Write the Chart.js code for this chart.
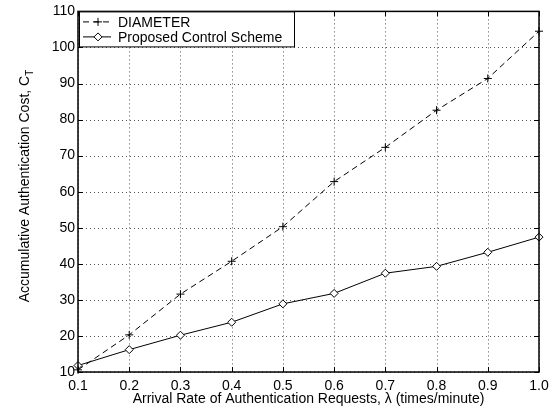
<!DOCTYPE html>
<html>
<head>
<meta charset="utf-8">
<script src="https://cdn.jsdelivr.net/npm/chart.js@4.4.0/dist/chart.umd.min.js"></script>
<style>
html, body { margin: 0; padding: 0; background: #fff; }
</style>
</head>
<body>
<canvas id="costChart" width="555" height="411"></canvas>
<script>
const rates = [0.1, 0.2, 0.3, 0.4, 0.5, 0.6, 0.7, 0.8, 0.9, 1.0];
const diameterCost = [10.6, 20.3, 31.6, 40.7, 50.3, 62.8, 72.3, 82.6, 91.4, 104.5];
const proposedCost = [11.8, 16.2, 20.2, 23.8, 28.9, 31.8, 37.4, 39.3, 43.2, 47.4];
const xTicks = [0.1, 0.2, 0.3, 0.4, 0.5, 0.6, 0.7, 0.8, 0.9, 1.0];
const yTicks = [10, 20, 30, 40, 50, 60, 70, 80, 90, 100, 110];
const seriesNames = ['DIAMETER', 'Proposed Control Scheme'];
const xTitle = 'Arrival Rate of Authentication Requests, \u03bb (times/minute)';
const yTitle = 'Accumulative Authentication Cost, C';
const yTitleSub = 'T';

const FONT = "'Liberation Sans', Arial, Helvetica, sans-serif";

function drawMarker(ctx, kind, x, y) {
  ctx.beginPath();
  if (kind === 'cross') {
    ctx.moveTo(x - 4, y); ctx.lineTo(x + 4, y);
    ctx.moveTo(x, y - 4); ctx.lineTo(x, y + 4);
    ctx.stroke();
  } else {
    ctx.moveTo(x, y - 4); ctx.lineTo(x + 4, y); ctx.lineTo(x, y + 4); ctx.lineTo(x - 4, y);
    ctx.closePath();
    ctx.fillStyle = '#fff';
    ctx.fill();
    ctx.stroke();
  }
}

// dotted grid, frame, inward ticks, y title with subscript, legend box
const decor = {
  id: 'decor',
  beforeDatasetsDraw(chart) {
    const { ctx, chartArea: a, scales } = chart;
    ctx.save();
    ctx.strokeStyle = '#555';
    ctx.lineWidth = 1;
    ctx.setLineDash([1, 3]);
    ctx.beginPath();
    xTicks.forEach(v => {
      const px = Math.round(scales.x.getPixelForValue(v)) + 0.5;
      ctx.moveTo(px, a.top); ctx.lineTo(px, a.bottom);
    });
    yTicks.forEach(v => {
      const py = Math.round(scales.y.getPixelForValue(v)) + 0.5;
      ctx.moveTo(a.left, py); ctx.lineTo(a.right, py);
    });
    ctx.stroke();
    ctx.restore();
  },
  afterDraw(chart) {
    const { ctx, chartArea: a, scales } = chart;
    ctx.save();
    ctx.strokeStyle = '#000';
    ctx.lineWidth = 1;
    ctx.setLineDash([]);
    ctx.beginPath();
    xTicks.forEach(v => {
      const px = Math.round(scales.x.getPixelForValue(v)) + 0.5;
      ctx.moveTo(px, a.bottom); ctx.lineTo(px, a.bottom - 5);
      ctx.moveTo(px, a.top); ctx.lineTo(px, a.top + 5);
    });
    yTicks.forEach(v => {
      const py = Math.round(scales.y.getPixelForValue(v)) + 0.5;
      ctx.moveTo(a.left, py); ctx.lineTo(a.left + 5, py);
      ctx.moveTo(a.right, py); ctx.lineTo(a.right - 5, py);
    });
    ctx.stroke();
    ctx.lineWidth = 1.5;
    ctx.strokeRect(a.left, a.top, a.right - a.left, a.bottom - a.top);

    // y title
    ctx.fillStyle = '#000';
    ctx.translate(25, 186);
    ctx.rotate(-Math.PI / 2);
    ctx.font = '14px ' + FONT;
    const w1 = ctx.measureText(yTitle).width;
    ctx.font = '10px ' + FONT;
    const w2 = ctx.measureText(yTitleSub).width;
    ctx.textBaseline = 'middle';
    ctx.textAlign = 'left';
    ctx.font = '14px ' + FONT;
    ctx.fillText(yTitle, -(w1 + w2) / 2, 0);
    ctx.font = '10px ' + FONT;
    ctx.fillText(yTitleSub, -(w1 + w2) / 2 + w1, 5);
    ctx.restore();

    // legend
    ctx.save();
    const lx = a.left + 1, ly = a.top + 0.5, lw = 215, lh = 35;
    ctx.fillStyle = '#fff';
    ctx.fillRect(lx, ly, lw, lh);
    ctx.strokeStyle = '#000';
    ctx.lineWidth = 1;
    ctx.strokeRect(lx + 0.5, ly, lw, lh);
    ctx.font = '14px ' + FONT;
    ctx.textBaseline = 'middle';
    ctx.fillStyle = '#000';
    const rows = [
      { name: seriesNames[0], dash: [6, 4], marker: 'cross', y: ly + 10 },
      { name: seriesNames[1], dash: [], marker: 'diamond', y: ly + 25 }
    ];
    rows.forEach(r => {
      ctx.setLineDash(r.dash);
      ctx.beginPath();
      ctx.moveTo(lx + 4, r.y); ctx.lineTo(lx + 32, r.y);
      ctx.stroke();
      ctx.setLineDash([]);
      drawMarker(ctx, r.marker, lx + 19, r.y);
      ctx.fillStyle = '#000';
      ctx.fillText(r.name, lx + 39, r.y + 1);
    });
    ctx.restore();
  }
};

new Chart(document.getElementById('costChart'), {
  type: 'line',
  data: {
    datasets: [{
      label: seriesNames[0],
      data: rates.map((r, i) => ({ x: r, y: diameterCost[i] })),
      borderColor: '#000',
      borderWidth: 1,
      borderDash: [6, 4],
      pointStyle: 'cross',
      pointRadius: 4,
      pointBorderColor: '#000',
      pointBorderWidth: 1,
      backgroundColor: '#000',
      fill: false,
      tension: 0,
      clip: false
    }, {
      label: seriesNames[1],
      data: rates.map((r, i) => ({ x: r, y: proposedCost[i] })),
      borderColor: '#000',
      borderWidth: 1,
      pointStyle: 'rectRot',
      pointRadius: 4,
      pointBorderColor: '#000',
      pointBackgroundColor: '#fff',
      pointBorderWidth: 1,
      backgroundColor: '#fff',
      fill: false,
      tension: 0,
      clip: false
    }]
  },
  options: {
    responsive: false,
    animation: false,
    layout: { padding: { top: 10, right: 16, left: 0, bottom: 0 } },
    plugins: { legend: { display: false }, tooltip: { enabled: false } },
    scales: {
      x: {
        type: 'linear',
        min: 0.1,
        max: 1.0,
        afterBuildTicks: s => { s.ticks = xTicks.map(v => ({ value: v })); },
        afterFit: s => { s.height = 39; },
        ticks: {
          color: '#000',
          font: { family: FONT, size: 14 },
          padding: 6,
          maxRotation: 0,
          autoSkip: false,
          callback: v => v.toFixed(1)
        },
        grid: { display: false, drawTicks: false },
        border: { display: false },
        title: {
          display: true,
          text: xTitle,
          color: '#000',
          font: { family: FONT, size: 14 },
          padding: { top: 0, bottom: 3 }
        }
      },
      y: {
        type: 'linear',
        min: 10,
        max: 110,
        afterBuildTicks: s => { s.ticks = yTicks.map(v => ({ value: v })); },
        afterFit: s => { s.width = 78; },
        ticks: {
          color: '#000',
          font: { family: FONT, size: 14 },
          padding: 3,
          autoSkip: false
        },
        grid: { display: false, drawTicks: false },
        border: { display: false }
      }
    }
  },
  plugins: [decor]
});
</script>
</body>
</html>
